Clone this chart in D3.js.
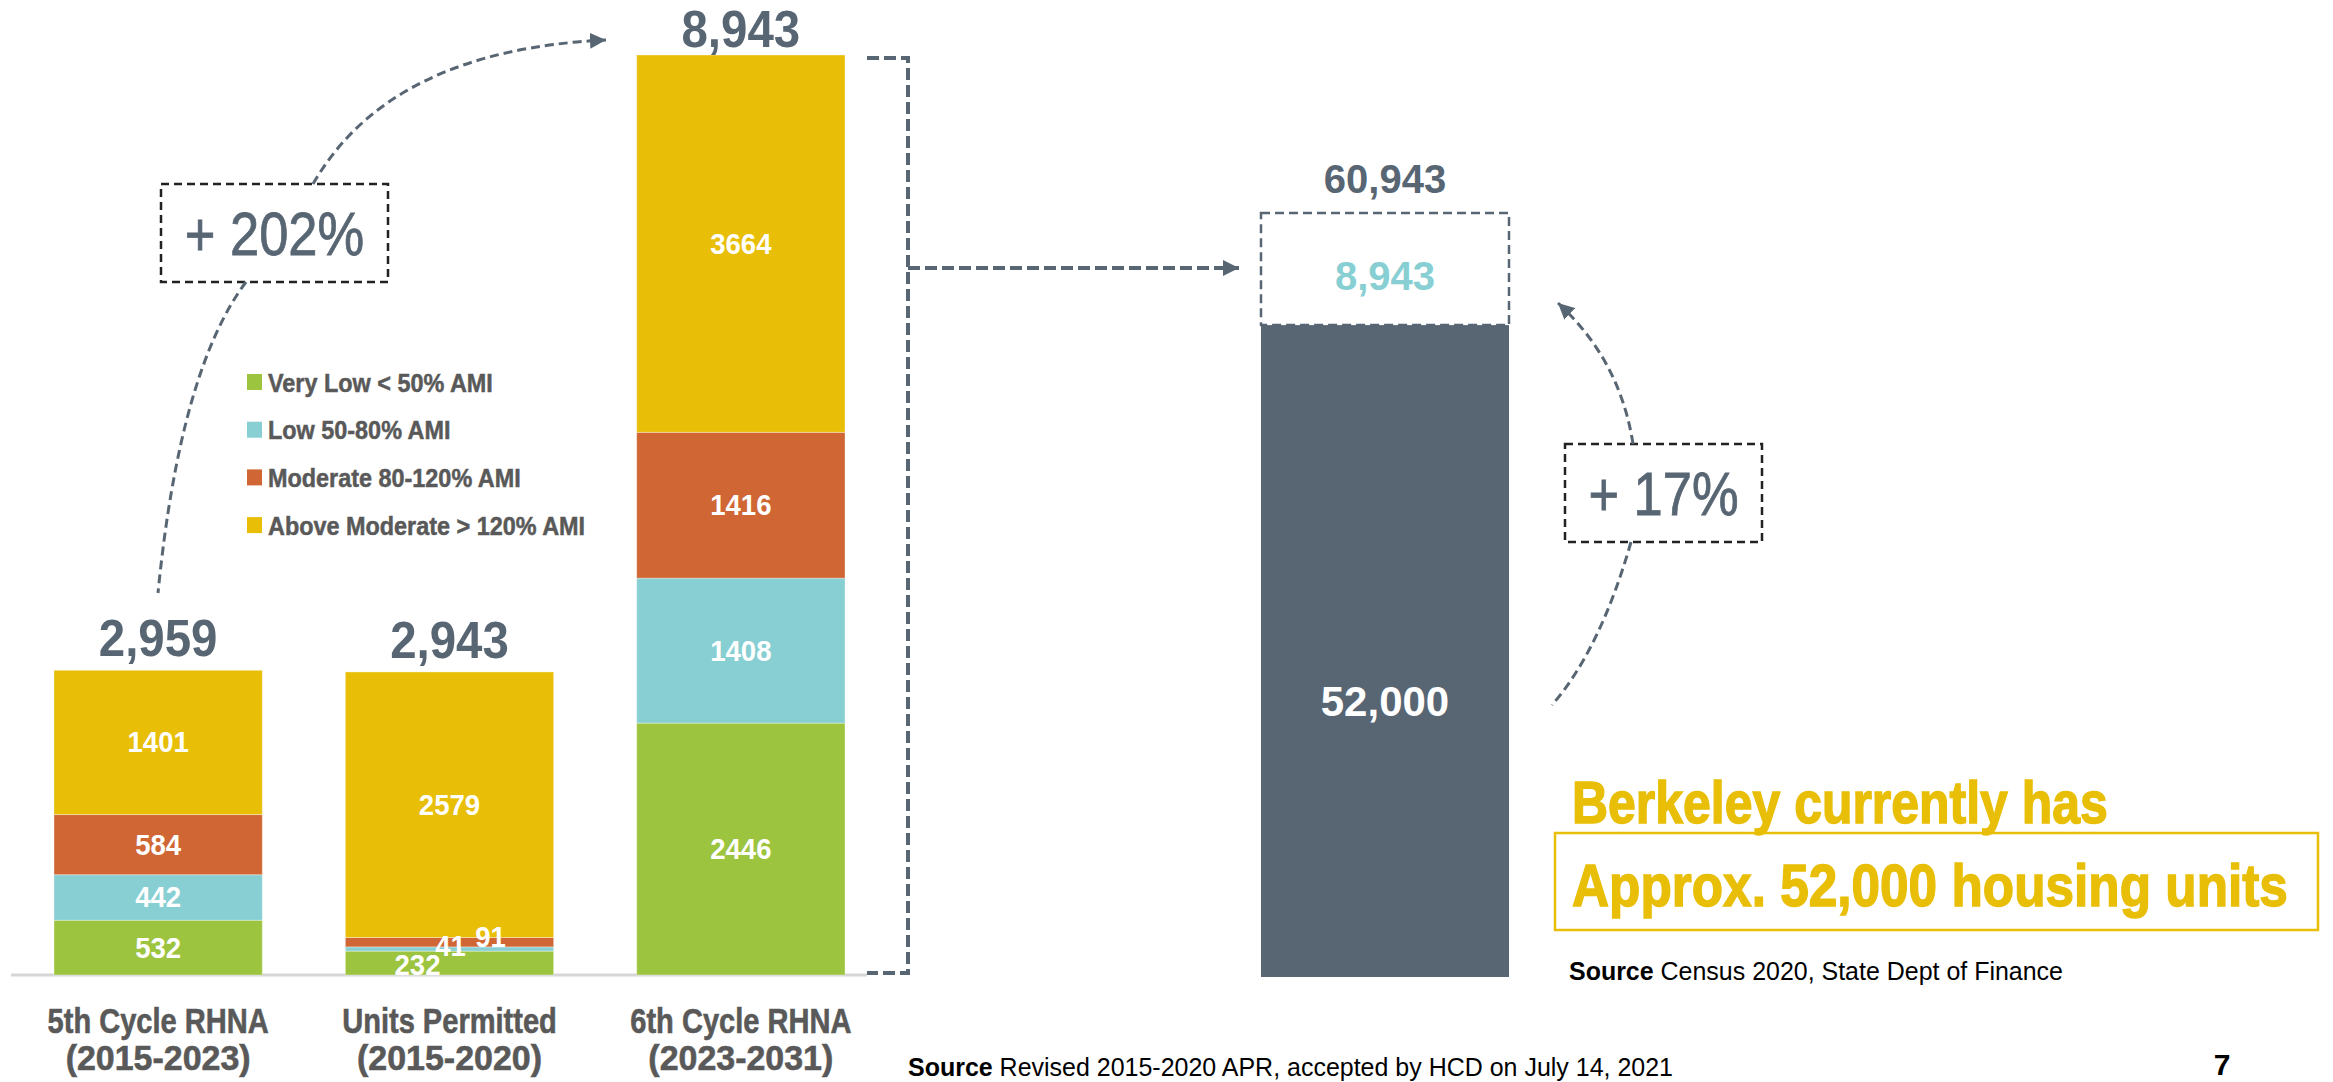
<!DOCTYPE html>
<html>
<head>
<meta charset="utf-8">
<script src="https://cdn.jsdelivr.net/npm/d3@7"></script>
<style>
  html, body { margin: 0; padding: 0; background: #fff; }
  text { font-family: 'Liberation Sans', Arial, sans-serif; }
</style>
</head>
<body>
<div id="chart"></div>
<script>
// data
const categories = ['5th Cycle RHNA', 'Units Permitted', '6th Cycle RHNA']
const periods = ['(2015-2023)', '(2015-2020)', '(2023-2031)']
const levels = ['Very Low < 50% AMI', 'Low 50-80% AMI', 'Moderate 80-120% AMI', 'Above Moderate > 120% AMI']
const veryLow = [532, 232, 2446]
const low = [442, 41, 1408]
const moderate = [584, 91, 1416]
const aboveModerate = [1401, 2579, 3664]
const totalLabels = ['2,959', '2,943', '8,943']
const growthLabels = ['+ 202%', '+ 17%']
const existingUnits = 52000
const newUnits = 8943
const housingParts = ['Existing', 'New']
const headline = ['Berkeley currently has', 'Approx. 52,000 housing units']

const width = 2333
const height = 1082
const baseline = 975

const svg = d3
  .select('#chart')
  .append('svg')
  .attr('width', width)
  .attr('height', height)

// no condensed face is installed, so squeeze the glyphs of a normal one
function squeeze(sel, k) {
  sel.each(function() {
    const w = this.getComputedTextLength()
    d3.select(this)
      .attr('textLength', w * k)
      .attr('lengthAdjust', 'spacingAndGlyphs')
  })
}

const colorScale = d3
  .scaleOrdinal()
  .domain(levels)
  .range(['#9dc43f', '#87cfd2', '#cf6633', '#e8be07'])

const slate = '#586674'
const grayText = '#595959'

const rows = categories.map((c, i) => ({
  category: c,
  [levels[0]]: veryLow[i],
  [levels[1]]: low[i],
  [levels[2]]: moderate[i],
  [levels[3]]: aboveModerate[i]
}))

const stacked = d3.stack().keys(levels)(rows)
const tops = stacked[stacked.length - 1]

const xScale = d3
  .scaleBand()
  .domain(categories)
  .range([54, 845])
  .paddingInner(0.285)

const yScale = d3
  .scaleLinear()
  .domain([0, d3.max(tops, d => d[1])])
  .range([baseline, 55])

// arrow marker
svg
  .append('defs')
  .append('marker')
  .attr('id', 'arrow')
  .attr('markerUnits', 'userSpaceOnUse')
  .attr('markerWidth', 18)
  .attr('markerHeight', 16)
  .attr('refX', 16)
  .attr('refY', 8)
  .attr('orient', 'auto')
  .append('path')
  .attr('d', 'M0,0 L16,8 L0,16 Z')
  .attr('fill', slate)

// baseline
svg
  .append('line')
  .attr('x1', 11)
  .attr('x2', 867)
  .attr('y1', baseline)
  .attr('y2', baseline)
  .attr('stroke', '#d6d6d6')
  .attr('stroke-width', 3)

// stacked bars
const layers = svg
  .selectAll('g.layer')
  .data(stacked)
  .enter()
  .append('g')
  .attr('class', 'layer')
  .attr('fill', d => colorScale(d.key))

layers
  .selectAll('rect')
  .data(d => d)
  .enter()
  .append('rect')
  .attr('x', d => xScale(d.data.category))
  .attr('width', xScale.bandwidth())
  .attr('y', d => yScale(d[1]))
  .attr('height', d => yScale(d[0]) - yScale(d[1]))
  .attr('stroke', 'rgba(255,255,255,0.35)')
  .attr('stroke-width', 1)

// segment labels, the thin ones in the middle bar are nudged like in the slide
const nudge = {
  'Units Permitted': [{ dx: -32, y: 975 }, { dx: 1, y: 956 }, { dx: 41, y: 947 }, null]
}

const segLabels = svg.append('g')
stacked.forEach((layer, li) => {
  segLabels
    .selectAll('text.l' + li)
    .data(layer)
    .enter()
    .append('text')
    .attr('class', 'l' + li)
    .text(d => d[1] - d[0])
    .attr('fill', '#fff')
    .attr('font-weight', 'bold')
    .attr('font-size', 29)
    .attr('text-anchor', 'middle')
    .attr('x', d => {
      const cx = xScale(d.data.category) + xScale.bandwidth() / 2
      const n = nudge[d.data.category] && nudge[d.data.category][li]
      return n ? cx + n.dx : cx
    })
    .attr('y', d => {
      const n = nudge[d.data.category] && nudge[d.data.category][li]
      return n ? n.y : (yScale(d[0]) + yScale(d[1])) / 2 + 10
    })
    .call(squeeze, 0.95)
})

// totals above bars
svg
  .selectAll('text.total')
  .data(categories)
  .enter()
  .append('text')
  .attr('class', 'total')
  .text((d, i) => totalLabels[i])
  .attr('x', d => xScale(d) + xScale.bandwidth() / 2)
  .attr('y', (d, i) => Math.max(47, yScale(tops[i][1]) - 14))
  .attr('text-anchor', 'middle')
  .attr('font-weight', 'bold')
  .attr('font-size', 51)
  .attr('fill', slate)
  .call(squeeze, 0.93)

// category labels
const catLabels = svg
  .selectAll('text.cat')
  .data(categories)
  .enter()
  .append('text')
  .attr('class', 'cat')
  .attr('text-anchor', 'middle')
  .attr('font-weight', 'bold')
  .attr('font-size', 35)
  .attr('fill', grayText)
  .attr('stroke', grayText)
  .attr('stroke-width', 0.6)

catLabels
  .append('tspan')
  .attr('x', d => xScale(d) + xScale.bandwidth() / 2)
  .attr('y', 1033)
  .text(d => d)
  .call(squeeze, 0.83)
catLabels
  .append('tspan')
  .attr('x', d => xScale(d) + xScale.bandwidth() / 2)
  .attr('y', 1070)
  .text((d, i) => periods[i])
  .call(squeeze, 0.97)

// legend
const legend = svg.append('g').attr('transform', 'translate(247, 382)')
legend
  .selectAll('g')
  .data(levels)
  .enter()
  .append('g')
  .attr('transform', (d, i) => `translate(0, ${i * 47.7})`)
  .each(function(d) {
    const group = d3.select(this)
    group
      .append('rect')
      .attr('x', 0)
      .attr('y', -8)
      .attr('width', 15)
      .attr('height', 16)
      .attr('fill', colorScale(d))
    group
      .append('text')
      .text(d)
      .attr('x', 21)
      .attr('y', 9.5)
      .attr('font-weight', 'bold')
      .attr('font-size', 26)
      .attr('fill', grayText)
      .attr('stroke', grayText)
      .attr('stroke-width', 0.5)
      .call(squeeze, 0.9)
  })

// bracket from the 6th cycle bar across to the housing bar
const bar3Right = xScale(categories[2]) + xScale.bandwidth()
svg
  .append('path')
  .attr('d', `M${bar3Right + 22},${yScale(tops[2][1]) + 3} H${bar3Right + 63} V${baseline - 2} H${bar3Right + 22}`)
  .attr('fill', 'none')
  .attr('stroke', slate)
  .attr('stroke-width', 4)
  .attr('stroke-dasharray', '12,5')

svg
  .append('line')
  .attr('x1', bar3Right + 63)
  .attr('x2', 1239)
  .attr('y1', 268)
  .attr('y2', 268)
  .attr('stroke', slate)
  .attr('stroke-width', 4)
  .attr('stroke-dasharray', '12,5')
  .attr('marker-end', 'url(#arrow)')

// right-hand chart: existing housing + new RHNA
const x2 = d3
  .scaleBand()
  .domain(['Berkeley'])
  .range([1260, 1510])

const y2 = d3
  .scaleLinear()
  .domain([0, existingUnits + newUnits])
  .range([977, 213])

const housing = d3.stack().keys(housingParts)([{ Existing: existingUnits, New: newUnits }])

svg
  .selectAll('rect.housing')
  .data(housing)
  .enter()
  .append('rect')
  .attr('class', 'housing')
  .attr('x', x2('Berkeley') + 1)
  .attr('width', x2.bandwidth() - 2)
  .attr('y', d => y2(d[0][1]))
  .attr('height', d => y2(d[0][0]) - y2(d[0][1]))
  .attr('fill', d => (d.key === 'Existing' ? slate : 'none'))
  .attr('stroke', d => (d.key === 'Existing' ? 'none' : slate))
  .attr('stroke-width', 2.5)
  .attr('stroke-dasharray', d => (d.key === 'Existing' ? null : '9,5'))

const midX = x2('Berkeley') + x2.bandwidth() / 2

svg
  .append('text')
  .text(d3.format(',')(existingUnits + newUnits))
  .attr('x', midX)
  .attr('y', y2(existingUnits + newUnits) - 20)
  .attr('text-anchor', 'middle')
  .attr('font-weight', 'bold')
  .attr('font-size', 40)
  .attr('fill', slate)

svg
  .append('text')
  .text(d3.format(',')(newUnits))
  .attr('x', midX)
  .attr('y', (y2(existingUnits) + y2(existingUnits + newUnits)) / 2 + 21)
  .attr('text-anchor', 'middle')
  .attr('font-weight', 'bold')
  .attr('font-size', 40)
  .attr('fill', colorScale(levels[1]))

svg
  .append('text')
  .text(d3.format(',')(existingUnits))
  .attr('x', midX)
  .attr('y', 716)
  .attr('text-anchor', 'middle')
  .attr('font-weight', 'bold')
  .attr('font-size', 42)
  .attr('fill', '#fff')

// growth call-outs with curved dashed arrows
const growthBoxes = [
  { x: 161, y: 184, w: 227, h: 98 },
  { x: 1565, y: 444, w: 197, h: 98 }
]

svg
  .selectAll('rect.growth')
  .data(growthBoxes)
  .enter()
  .append('rect')
  .attr('class', 'growth')
  .attr('x', d => d.x)
  .attr('y', d => d.y)
  .attr('width', d => d.w)
  .attr('height', d => d.h)
  .attr('fill', 'none')
  .attr('stroke', '#222')
  .attr('stroke-width', 2.5)
  .attr('stroke-dasharray', '8,5')

svg
  .selectAll('text.growth')
  .data(growthBoxes)
  .enter()
  .append('text')
  .attr('class', 'growth')
  .text((d, i) => growthLabels[i])
  .attr('x', d => d.x + d.w / 2)
  .attr('y', d => d.y + d.h / 2 + 22)
  .attr('text-anchor', 'middle')
  .attr('font-size', 61)
  .attr('fill', slate)
  .attr('stroke', slate)
  .attr('stroke-width', 0.8)
  .call(squeeze, 0.86)

function curve(x0, y0, cx, cy, x1, y1) {
  const p = d3.path()
  p.moveTo(x0, y0)
  p.quadraticCurveTo(cx, cy, x1, y1)
  return p.toString()
}

const arcs = [
  { d: curve(246, 282, 180, 370, 158, 593), arrow: false },
  { d: curve(313, 184, 390, 50, 606, 40), arrow: true },
  { d: curve(1631, 542, 1600, 650, 1552, 705), arrow: false },
  { d: curve(1633, 444, 1620, 360, 1558, 303), arrow: true }
]

svg
  .selectAll('path.arc')
  .data(arcs)
  .enter()
  .append('path')
  .attr('class', 'arc')
  .attr('d', d => d.d)
  .attr('fill', 'none')
  .attr('stroke', slate)
  .attr('stroke-width', 3)
  .attr('stroke-dasharray', '9,5')
  .attr('marker-end', d => (d.arrow ? 'url(#arrow)' : null))

// yellow headline, squeezed with a transform so the box of the text stays honest
const yellow = '#e8be07'
const headlineSpots = [
  { x: 1572, y: 823, w: 536 },
  { x: 1572, y: 906, w: 716 }
]

svg
  .append('rect')
  .attr('x', 1555)
  .attr('y', 833)
  .attr('width', 763)
  .attr('height', 97)
  .attr('fill', 'none')
  .attr('stroke', yellow)
  .attr('stroke-width', 2.5)

svg
  .selectAll('text.headline')
  .data(headline)
  .enter()
  .append('text')
  .attr('class', 'headline')
  .text(d => d)
  .attr('font-weight', 'bold')
  .attr('font-size', 60)
  .attr('fill', yellow)
  .attr('stroke', yellow)
  .attr('stroke-width', 1.5)
  .each(function(d, i) {
    const spot = headlineSpots[i]
    const k = spot.w / this.getComputedTextLength()
    d3.select(this).attr('transform', `translate(${spot.x},${spot.y}) scale(${k},1)`)
  })

// sources and page number
function source(x, y, rest, w) {
  const t = svg
    .append('text')
    .attr('x', x)
    .attr('y', y)
    .attr('font-size', 25)
    .attr('fill', '#000')
  t.append('tspan').attr('font-weight', 'bold').text('Source')
  t.append('tspan').text(' ' + rest)
  t.attr('textLength', w).attr('lengthAdjust', 'spacingAndGlyphs')
}

source(1569, 980, 'Census 2020, State Dept of Finance', 494)
source(908, 1076, 'Revised 2015-2020 APR, accepted by HCD on July 14, 2021', 765)

svg
  .append('text')
  .text('7')
  .attr('x', 2222)
  .attr('y', 1075)
  .attr('text-anchor', 'middle')
  .attr('font-weight', 'bold')
  .attr('font-size', 30)
  .attr('fill', '#000')
</script>
</body>
</html>
